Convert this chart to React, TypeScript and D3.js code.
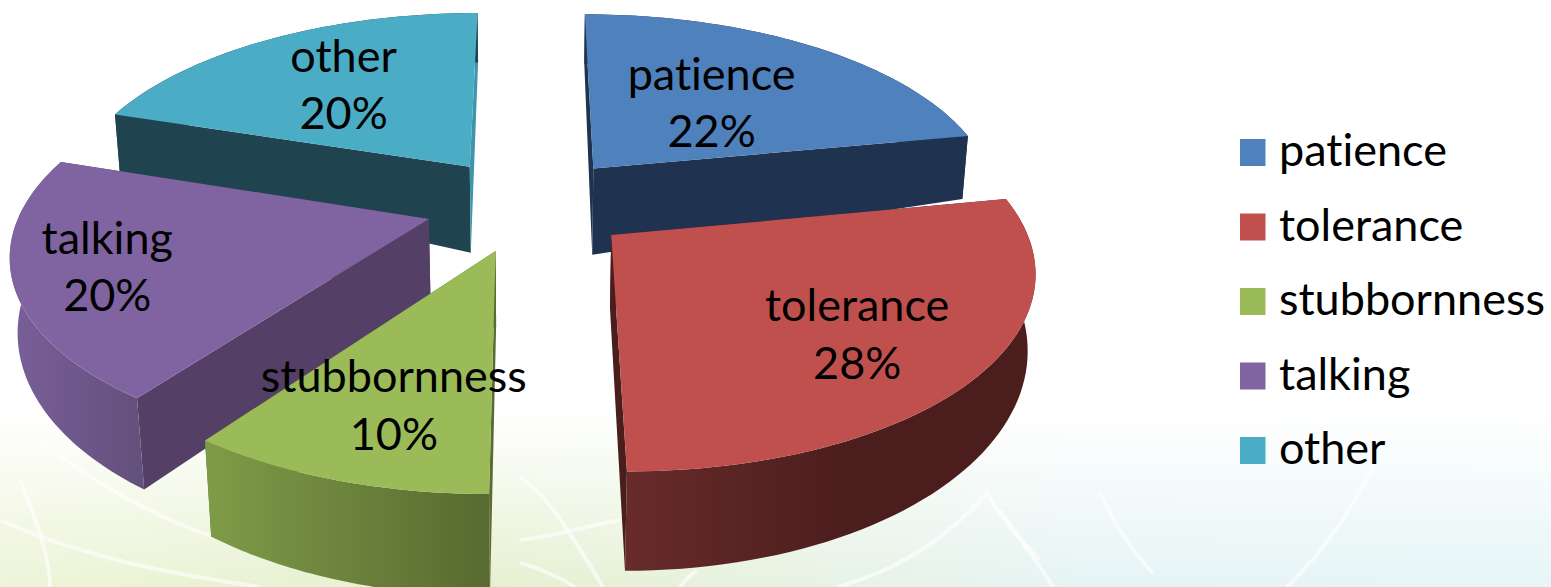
import React from 'react';
import * as d3 from 'd3';

const W = 1551;
const H = 587;

// slices, clockwise from the top
const categories = ['patience', 'tolerance', 'stubbornness', 'talking', 'other'];
const shares = [22, 28, 10, 20, 20];
const topColors = ['#4f81bd', '#c0504d', '#9bbb59', '#8064a2', '#4bacc6'];
const startWallColors = ['#1f3350', '#4b1d1d', '#5a6b32', '#543f66', '#1f444f'];
const endWallColors = ['#1f3350', '#4b1d1d', '#5a6b32', '#543f66', '#3f95ab'];
const rimStops = [
  ['#1f3350', '#1f3350'],
  ['#672b2a', '#4b1d1d'],
  ['#7f9c48', '#586a30'],
  ['#7a5f9a', '#64507c'],
  ['#1f444f', '#1f444f'],
];
// back to front
const paintOrder = [4, 0, 3, 1, 2];

// where the data label sits inside its slice
const labelRadius = [0.511, 0.705, 0.705, 0.781, 0.612];
const labelNudgeDeg = [0.3, 1.4, -1, 0.2, 0.4];
// the walls get a little taller towards the hub on the back slices
const hubExtraDepth = [20, 0, 0, 7, 20];

const legendRows = d3.range(categories.length);

// white streaks of the slide background
const streaks = [
  'M43,443 C90,480 150,515 213,537 C300,555 400,545 490,545',
  'M0,520 C90,560 180,575 260,587',
  'M20,480 C40,530 50,560 50,587',
  'M520,477 C545,495 560,515 603,587',
  'M520,540 C560,535 590,525 620,520',
  'M520,563 C540,568 560,578 575,587',
  'M697,570 C690,575 685,580 680,587',
  'M987,493 C1005,525 1025,545 1040,560',
  'M987,493 C950,535 900,570 837,587',
  'M1000,510 C1020,540 1040,565 1053,587',
  'M1383,443 C1360,500 1325,550 1287,587',
  'M1100,493 C1115,525 1135,555 1153,573',
];

// plane of the pie top, seen in perspective
const cx = 529;
const horizon = -1000;
const planeH = 1204;
const persp = 0.00038;
const R = 406;
const Ry = 412;
const explode = 104;

function project(X: number, Y: number) {
  const s = 1 / (1 + persp * Y);
  return [cx + X * s, horizon + planeH * s] as [number, number];
}

function drop(p: [number, number], extra: number) {
  const by = 1.109 * p[1] + 48 + extra;
  const depth = by - p[1];
  return [cx + (p[0] - cx) * (1 - 0.0002 * depth), by] as [number, number];
}

const pieAngles = d3.pie<number>().sort(null)(shares);
const line = d3.line();

function buildSlice(i: number) {
  const a = pieAngles[i];
  const mid = (a.startAngle + a.endAngle) / 2;
  const ox = explode * Math.sin(mid);
  const oy = explode * Math.cos(mid);
  const at = (ang: number, r: number) =>
    project(ox + r * R * Math.sin(ang), oy + r * Ry * Math.cos(ang));

  const n = 60;
  const angles = d3.range(n + 1).map((k) => a.startAngle + ((a.endAngle - a.startAngle) * k) / n);
  const rimTop = angles.map((ang) => at(ang, 1));
  const rimBottom = rimTop.map((p) => drop(p, 0));
  const hub = at(0, 0);
  const hubBottom = drop(hub, hubExtraDepth[i]);

  const top = line([hub, ...rimTop])! + 'Z';
  const rim = line([...rimTop, ...rimBottom.slice().reverse()])! + 'Z';
  const wallStart = line([hub, rimTop[0], rimBottom[0], hubBottom])! + 'Z';
  const wallEnd = line([hub, rimTop[n], rimBottom[n], hubBottom])! + 'Z';

  const labelAng = mid + (labelNudgeDeg[i] * Math.PI) / 180;
  const label = at(labelAng, labelRadius[i]);
  const xs = d3.extent(rimTop, (p) => p[0]) as [number, number];
  return { top, rim, wallStart, wallEnd, label, xs };
}

const slices = categories.map((_, i) => buildSlice(i));

const FONT = 'Lato, "Open Sans", sans-serif';
const labelSize = 45;
const textStyle = { fontVariantLigatures: 'none' } as React.CSSProperties;

export default function App() {
  return (
    <svg
      width={W}
      height={H}
      viewBox={`0 0 ${W} ${H}`}
      style={{ position: 'absolute', left: 0, top: 0, display: 'block' }}
    >
      <defs>
        <linearGradient id="bgTint" x1="0" x2="1" y1="0" y2="0">
          <stop offset="0%" stopColor="#edf4d8" />
          <stop offset="30%" stopColor="#e6f0cf" />
          <stop offset="50%" stopColor="#e6f2e0" />
          <stop offset="70%" stopColor="#e6f4f5" />
          <stop offset="100%" stopColor="#e6f5f6" />
        </linearGradient>
        <linearGradient id="bgFade" x1="0" x2="0" y1="0" y2="1">
          <stop offset="0%" stopColor="#000" />
          <stop offset="100%" stopColor="#fff" />
        </linearGradient>
        <mask id="bgMask" maskUnits="userSpaceOnUse" x="0" y="410" width={W} height="177">
          <rect x="0" y="410" width={W} height="177" fill="url(#bgFade)" />
        </mask>
        {slices.map((s, i) => (
          <linearGradient
            key={i}
            id={`rim${i}`}
            gradientUnits="userSpaceOnUse"
            x1={s.xs[0]}
            x2={i === 1 ? s.xs[0] + 230 : s.xs[1]}
            y1="0"
            y2="0"
          >
            <stop offset="0%" stopColor={rimStops[i][0]} />
            <stop offset="100%" stopColor={rimStops[i][1]} />
          </linearGradient>
        ))}
      </defs>

      <rect width={W} height={H} fill="#fff" />
      <rect x="0" y="410" width={W} height="177" fill="url(#bgTint)" mask="url(#bgMask)" />
      <g fill="none" stroke="#fff" strokeOpacity={0.6} strokeWidth={4}>
        {streaks.map((d, i) => (
          <path key={i} d={d} />
        ))}
      </g>

      {paintOrder.map((i) => (
        <g key={categories[i]}>
          <path d={slices[i].wallStart} fill={startWallColors[i]} />
          <path d={slices[i].wallEnd} fill={endWallColors[i]} />
          <path d={slices[i].rim} fill={`url(#rim${i})`} />
          <path d={slices[i].top} fill={topColors[i]} />
        </g>
      ))}

      <g fontFamily={FONT} fontSize={labelSize} fill="#000" textAnchor="middle" style={textStyle}>
        {slices.map((s, i) => (
          <g key={i}>
            <text x={s.label[0]} y={s.label[1] - 13}>
              {categories[i]}
            </text>
            <text x={s.label[0]} y={s.label[1] + 44.5}>
              {d3.format('d')(shares[i])}%
            </text>
          </g>
        ))}
      </g>

      <g fontFamily={FONT} fontSize={labelSize} fill="#000" style={textStyle}>
        {legendRows.map((i) => (
          <g key={i} transform={`translate(0,${74.5 * i})`}>
            <rect x={1240} y={139} width={25.5} height={27} fill={topColors[i]} />
            <text x={1279} y={166}>
              {categories[i]}
            </text>
          </g>
        ))}
      </g>
    </svg>
  );
}
